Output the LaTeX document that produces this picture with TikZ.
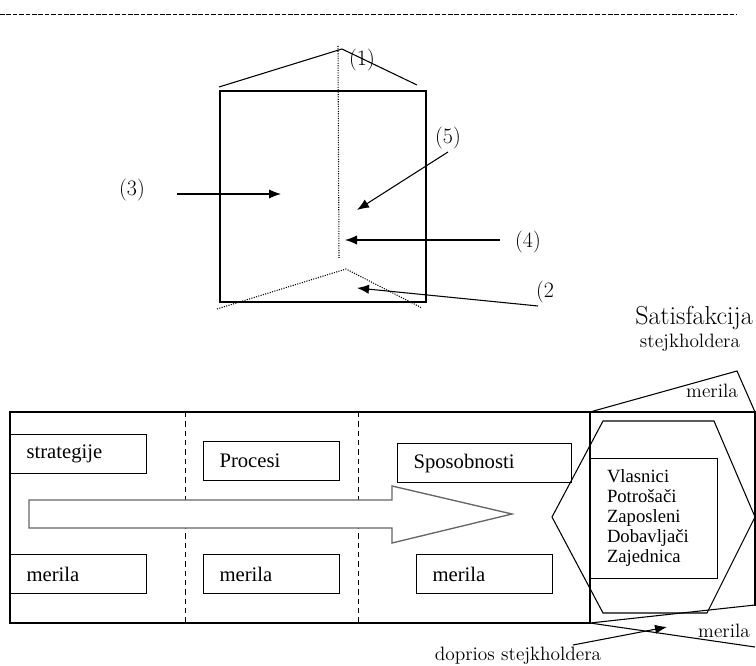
\documentclass[tikz,border=0pt]{standalone}
\usepackage{fontspec}
\usepackage{tikz}
\usetikzlibrary{arrows.meta}
\newfontfamily\boxfont{Liberation Serif}

\tikzset{
  lbl/.style={inner sep=0pt, font=\fontsize{14.5}{17}\selectfont},
  numlbl/.style={inner sep=0pt, font=\fontsize{16.5}{19}\selectfont},
  boxtxt/.style={draw, fill=white, anchor=north west, inner xsep=12pt, inner ysep=0pt,
    minimum height=29.25pt, text width=#1, align=left,
    font=\boxfont\fontsize{15.5}{18}\selectfont},
  boxtxt/.default=78pt,
  pointer/.style={-{Latex[length=9pt,width=7pt]}},
  split/.style={line width=0.6pt, dash pattern=on 4pt off 3pt},
}

\begin{document}
\begin{tikzpicture}[x=0.75pt,y=-0.75pt,line width=0.8pt]
\useasboundingbox (0,0) rectangle (756,666);
\draw[line width=0.7pt,dash pattern=on 3.4pt off 1.4pt] (0,14) -- (737,14);

% prizma
\draw (220,91) rectangle (426,302);
\draw (219,87) -- (342,49) -- (417,85);
\draw[densely dotted] (338,46) -- (339,258);
\draw[densely dotted] (217,309) -- (346,269) -- (422,308);
\node[numlbl] (n1) at (362,60) {(1)};
\node[numlbl] (n2) at (545,292) {(2};
\node[numlbl] (n3) at (132,190) {(3)};
\node[numlbl] (n4) at (528,242) {(4)};
\node[numlbl] (n5) at (448,138) {(5)};
\coordinate (s3) at (177,194);
\coordinate (t3) at (281,194);
\coordinate (s5) at (448,152);
\coordinate (t5) at (357,210);
\coordinate (s4) at (500,240);
\coordinate (t4) at (345,240);
\coordinate (s2) at (538,306);
\coordinate (t2) at (357,288);
\draw[pointer] (s3) -- (t3);
\draw[pointer] (s5) -- (t5);
\draw[pointer] (s4) -- (t4);
\draw[pointer] (s2) -- (t2);

% model
\draw (10,412) rectangle (590,623);
\draw[line width=1.8pt] (562,412) -- (590,412);
\draw[split] (185,412) -- (185,623);
\draw[split] (358,412) -- (358,623);
\draw[draw=black!60, fill=white, line width=1pt]
  (29,500) -- (392,500) -- (392,486) -- (512,514) -- (392,543) -- (392,528) -- (29,528) -- cycle;
\node[boxtxt] (strat) at (10,434) {strategije};
\node[boxtxt] (proc) at (203,441) {Procesi};
\node[boxtxt=106.5pt] (sposob) at (397,443) {Sposobnosti};
\node[boxtxt] (mer1) at (10,554) {merila};
\node[boxtxt] (mer2) at (203,554) {merila};
\node[boxtxt] (mer3) at (416,554) {merila};

\draw (590,412) -- (755,412) -- (755,606);
\draw (590,412) -- (737,371) -- (755,412);
\draw (755,605) -- (590,623) -- (755,647);
\draw (552,517) -- (603,421) -- (714,421) -- (755,517) -- (707,613) -- (603,613) -- cycle;
\node[draw, line width=0.7pt, minimum width=96pt, minimum height=90pt, inner xsep=13.5pt,
  text width=69pt, align=left, font=\boxfont\fontsize{14}{15}\selectfont] (stake) at (653,518)
  {Vlasnici\\Potrošači\\Zaposleni\\Dobavljači\\Zajednica};

\node[lbl, font=\fontsize{19.5}{22}\selectfont] (satis) at (694,318) {Satisfakcija};
\node[lbl] (stejk) at (690,343) {stejkholdera};
\node[lbl] (mtop) at (712,391) {merila};
\node[lbl] (mbot) at (724,631) {merila};
\node[lbl] (dopr) at (518,656) {doprios stejkholdera};
\coordinate (s6) at (573,645);
\coordinate (t6) at (667,627);
\draw[pointer] (s6) -- (t6);
\end{tikzpicture}
\end{document}
